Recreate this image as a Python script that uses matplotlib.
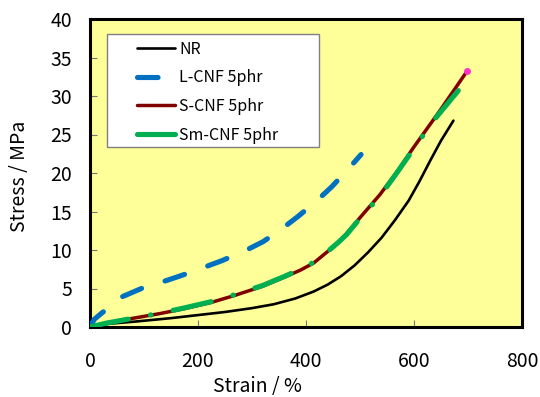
import matplotlib
matplotlib.use("Agg")
import matplotlib.pyplot as plt
from matplotlib.patches import Rectangle

plt.rcParams['font.family'] = ['Noto Sans CJK JP', 'DejaVu Sans']

# ---- data ----
strain_nr = [0, 20, 40, 83, 150, 200, 250, 300, 340, 380, 414, 440, 465, 490, 515, 540,
             565, 590, 610, 630, 650, 673]
stress_nr = [0, 0.3, 0.45, 0.7, 1.15, 1.55, 1.95, 2.45, 2.95, 3.7, 4.6, 5.5, 6.6, 8.0, 9.7,
             11.6, 13.9, 16.4, 18.9, 21.6, 24.2, 26.8]

strain_l = [0, 8, 21.6, 58.6, 101.8, 135.8, 169.8, 213, 243.8, 290, 321, 358, 386, 420, 447.5, 478, 502]
stress_l = [0, 1.0, 1.8, 3.9, 5.2, 5.9, 6.7, 7.8, 8.6, 10.0, 11.1, 12.9, 14.4, 16.4, 18.2, 20.5, 22.4]

strain_s = [0, 30, 77, 130, 176, 225, 268, 320, 361, 390, 414, 440, 460, 475, 500, 537,
            570, 599, 648, 698]
stress_s = [0, 0.5, 1.1, 1.75, 2.4, 3.2, 4.1, 5.3, 6.5, 7.4, 8.3, 9.8, 11.0, 12.1, 14.2, 17.2,
            20.3, 23.3, 28.1, 33.2]

strain_sm = [0, 30, 77, 130, 176, 225, 268, 320, 361, 390, 414, 440, 460, 475, 500, 537,
             565, 590, 636, 682]
stress_sm = [0, 0.5, 1.1, 1.8, 2.5, 3.3, 4.2, 5.4, 6.6, 7.5, 8.4, 9.8, 11.0, 12.0, 14.1, 17.0,
             19.7, 22.2, 26.8, 30.7]

labels = ["NR", "L-CNF 5phr", "S-CNF 5phr", "Sm-CNF 5phr"]
xticks = [0, 200, 400, 600, 800]
yticks = [0, 5, 10, 15, 20, 25, 30, 35, 40]

# ---- figure ----
fig = plt.figure(figsize=(5.4, 3.97), dpi=100)
fig.patch.set_facecolor('white')
ax = fig.add_axes([90/540, 1-327/397, 432/540, 308/397])
ax.set_facecolor('#FFFF99')

ax.plot(strain_nr, stress_nr, color='black', lw=1.9, label=labels[0], zorder=3,
        solid_capstyle='round', solid_joinstyle='round')
ax.plot(strain_l, stress_l, color='#0070C0', lw=3.7, label=labels[1], zorder=3,
        dash_capstyle='round', dashes=(4.0, 4.8))
ax.plot(strain_s, stress_s, color='#800000', lw=2.5, label=labels[2], zorder=3,
        solid_capstyle='round', solid_joinstyle='round')
ax.plot(strain_sm, stress_sm, color='#00B050', lw=3.7, label=labels[3], zorder=4,
        dash_capstyle='round', dashes=(7.6, 4.4, 0.1, 4.4))
ax.plot(strain_s[-1:], stress_s[-1:], 'o', color='#FF33CC', ms=4, zorder=5)

ax.set_xlim(0, 800)
ax.set_ylim(0, 40)
ax.set_xticks(xticks)
ax.set_yticks(yticks)
ax.tick_params(direction='in', length=5, width=0.8, color='#777777',
               labelsize=14, top=False, right=False)
ax.tick_params(axis='y', pad=13)
ax.tick_params(axis='x', pad=17)
for s in ax.spines.values():
    s.set_linewidth(2.2)
    s.set_color('black')

ax.set_xlabel("Strain / %", fontsize=14)
ax.xaxis.set_label_coords((257-90)/432, (327-376)/308)
ax.xaxis.label.set_va('top')
ax.set_ylabel("Stress / MPa", fontsize=14)
ax.yaxis.set_label_coords((20-90)/432, (327-176)/308)
ax.yaxis.label.set_va('center')

# legend frame
frame = Rectangle(((107-90)/432, (327-147)/308), (319-107)/432, (147-34)/308,
                  transform=ax.transAxes, facecolor='white', edgecolor='#808080',
                  lw=1.0, zorder=6)
ax.add_patch(frame)
leg = ax.legend(loc='upper left', bbox_to_anchor=((137-90)/432, (327-41)/308),
                frameon=False, fontsize=11.5, handlelength=2.4, handletextpad=0.25,
                labelspacing=0.72, borderpad=0, borderaxespad=0)
leg.set_zorder(7)

fig.savefig("out.png", dpi=100)
